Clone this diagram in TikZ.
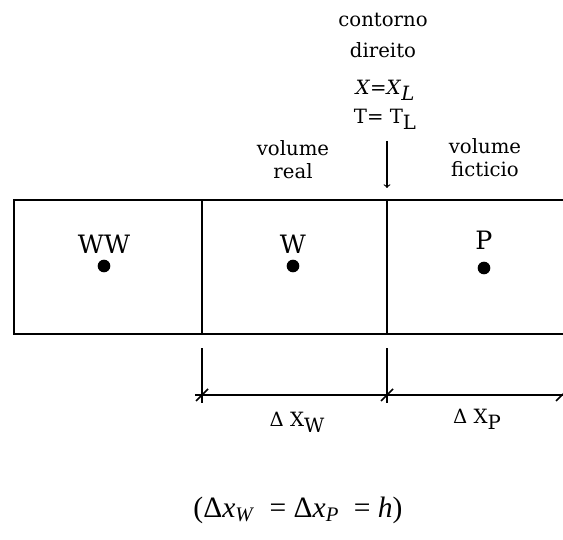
\documentclass[tikz,border=0pt]{standalone}
\usepackage{fontspec}
\setmainfont{DejaVu Serif}
\newfontfamily\timesfont{Liberation Serif}
\usetikzlibrary{arrows,positioning}

\newcommand{\lowsub}[1]{\raisebox{-0.6ex}{#1}}

\begin{document}
\begin{tikzpicture}[
    x=0.025cm, y=0.025cm,
    lbl/.style={font=\fontsize{14}{16.5}\selectfont, align=center, inner sep=1pt},
    ptlbl/.style={font=\fontsize{18}{20}\selectfont, inner sep=1pt},
    pt/.style={circle, fill=black, inner sep=0pt, minimum size=9pt},
    wall/.style={line width=1.3pt},
    dim/.style={line width=1.1pt}
]
\useasboundingbox (0,0) rectangle (563,539);

% control volumes
\draw[wall] (563,339) -- (14,339) -- (14,205) -- (563,205);
\draw[wall] (202,339) -- (202,205);
\draw[wall] (387,339) -- (387,205);

\node (ww) [pt] at (104,273) {};
\node (w) [pt] at (293,273) {};
\node (p) [pt] at (484,271) {};
\node (wwlbl) [ptlbl] at (104,295) {WW};
\node (wlbl) [ptlbl] at (293,295) {W};
\node (plbl) [ptlbl] at (484,299) {P};

% labels above
\node (cont) [lbl] at (383,519) {contorno};
\node (dir) [lbl] at (383,489) {direito};
\node (xl) [lbl] at (385,449) {\textit{X}=\textit{X}\lowsub{\textit{L}}};
\node (tl) [lbl] at (385,420) {T= T\lowsub{L}};
\node (real) [lbl] at (293,379) {volume\\real};
\node (fict) [lbl] at (485,381) {volume\\ficticio};

\coordinate (face) at (387,351);
\draw[-to, line width=0.8pt] (387,398) -- (face);

% dimensions
\coordinate (d1) at (202,144);
\coordinate (d2) at (387,144);
\coordinate (d3) at (563,144);
\draw[dim] (d1) ++(0,47) -- ++(0,-55);
\draw[dim] (d2) ++(0,47) -- ++(0,-55);
\draw[dim] (195,144) -- (d3);
\foreach \d in {d1,d2} {
  \draw[dim] (\d) ++(-6,-6) -- ++(12,12);
}
\draw[dim] (556,138) -- (563,145);
\node (dxw) [lbl] at (297,117) {Δ X\lowsub{W}};
\node (dxp) [lbl] at (477,120) {Δ X\lowsub{P}};

% relation
\node (rel) [font=\timesfont\fontsize{21}{24}\selectfont] at (298,29)
  {(Δ\textit{x}\textsubscript{\textit{W}}\ \ =\ Δ\textit{x}\textsubscript{\textit{P}}\ \ =\ \textit{h})};
\end{tikzpicture}
\end{document}
